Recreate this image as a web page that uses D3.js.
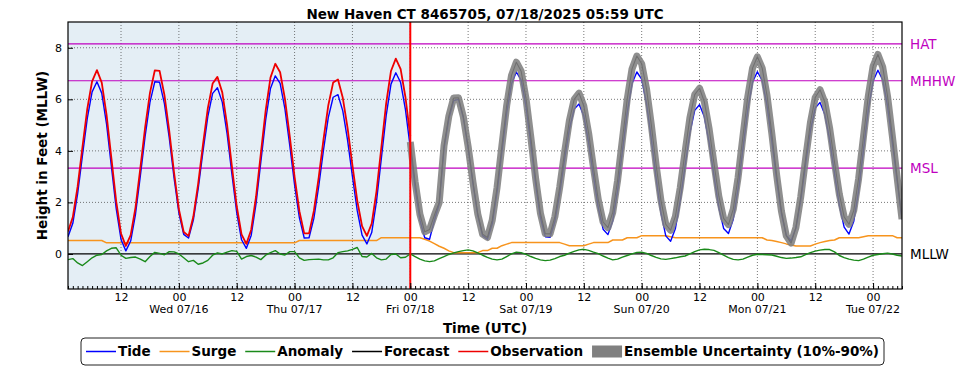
<!DOCTYPE html>
<html>
<head>
<meta charset="utf-8">
<script src="https://cdn.jsdelivr.net/npm/d3@7"></script>
<style>
  body { margin: 0; background: #fff; }
  svg { display: block; font-family: "DejaVu Sans", sans-serif; }
</style>
</head>
<body>
<svg width="969" height="370"></svg>
<script>
// hourly series, first value at 07/15 01 UTC
const startTime = Date.UTC(2025, 6, 15, 1);
const obsEndIndex = 71; // 07/18 00 UTC

const tide = [
  0.67, 1.19, 2.34, 3.82, 5.26, 6.29, 6.68, 6.24, 5.04, 3.40, 1.76, 0.56,
  0.12, 0.50, 1.54, 3.02, 4.57, 5.88, 6.68, 6.66, 5.83, 4.51, 2.95, 1.59,
  0.76, 0.62, 1.31, 2.52, 3.98, 5.33, 6.23, 6.45, 5.89, 4.67, 3.10, 1.60,
  0.55, 0.22, 0.72, 1.94, 3.57, 5.19, 6.42, 6.91, 6.62, 5.63, 4.21, 2.68,
  1.40, 0.62, 0.63, 1.38, 2.61, 4.04, 5.30, 6.08, 6.18, 5.55, 4.41, 3.01,
  1.68, 0.73, 0.39, 0.83, 2.05, 3.71, 5.37, 6.59, 7.03, 6.65, 5.60, 4.12,
  2.57, 1.31, 0.63, 0.57, 1.30, 1.95, 4.10, 5.25, 5.95, 6.00, 5.29, 4.12,
  2.74, 1.50, 0.71, 0.57, 1.18, 2.40, 3.96, 5.48, 6.60, 7.06, 6.75, 5.74,
  4.29, 2.72, 1.41, 0.67, 0.65, 1.27, 2.36, 3.66, 4.84, 5.62, 5.82, 5.35,
  4.32, 3.02, 1.79, 0.96, 0.75, 1.29, 2.46, 3.98, 5.49, 6.61, 7.06, 6.78,
  5.84, 4.47, 2.93, 1.59, 0.70, 0.49, 0.99, 2.06, 3.42, 4.70, 5.57, 5.79,
  5.32, 4.31, 3.03, 1.81, 0.99, 0.79, 1.35, 2.54, 4.08, 5.59, 6.67, 7.07,
  6.73, 5.76, 4.39, 2.88, 1.57, 0.72, 0.51, 1.01, 2.10, 3.48, 4.78, 5.66,
  5.88, 5.41, 4.42, 3.13, 1.90, 1.04, 0.77, 1.27, 2.46, 4.03, 5.58, 6.71,
  7.13, 6.76, 5.75, 4.32, 2.83, 1.35
];

// observed water level, index 0..71
const observation = [
  0.87, 1.43, 2.62, 4.15, 5.63, 6.70, 7.13, 6.65, 5.40, 3.72, 2.04, 0.79,
  0.31, 0.73, 1.80, 3.32, 4.91, 6.25, 7.12, 7.10, 6.17, 4.78, 3.16, 1.74,
  0.85, 0.70, 1.45, 2.72, 4.24, 5.65, 6.61, 6.87, 6.27, 5.01, 3.40, 1.85,
  0.76, 0.39, 0.94, 2.21, 3.89, 5.56, 6.84, 7.38, 7.05, 6.02, 4.56, 2.99,
  1.66, 0.80, 0.80, 1.67, 2.96, 4.45, 5.77, 6.65, 6.77, 6.06, 4.88, 3.44,
  2.07, 1.08, 0.70, 1.18, 2.44, 4.14, 5.84, 7.10, 7.58, 7.17, 6.08, 4.57
];

// forecast, index 71..173
const forecast = [
  4.35,
  2.80, 1.54, 0.86, 0.95, 1.50, 2.00, 4.20, 5.35, 6.05, 6.06, 5.33, 4.17,
  2.79, 1.55, 0.77, 0.64, 1.31, 2.58, 4.19, 5.76, 6.93, 7.44, 7.09, 6.04,
  4.54, 2.93, 1.58, 0.79, 0.78, 1.45, 2.59, 3.94, 5.17, 6.00, 6.24, 5.74,
  4.68, 3.35, 2.10, 1.24, 1.02, 1.61, 2.85, 4.43, 6.00, 7.18, 7.68, 7.38,
  6.41, 5.01, 3.44, 2.07, 1.15, 0.92, 1.46, 2.57, 3.96, 5.28, 6.18, 6.43,
  5.90, 4.84, 3.51, 2.24, 1.38, 1.14, 1.74, 2.97, 4.55, 6.09, 7.21, 7.65,
  7.21, 6.14, 4.67, 3.06, 1.65, 0.70, 0.42, 1.03, 2.22, 3.69, 5.09, 6.07,
  6.37, 5.88, 4.87, 3.56, 2.32, 1.44, 1.15, 1.69, 2.92, 4.53, 6.11, 7.28,
  7.74, 7.25, 6.12, 4.57, 2.95, 1.35
];

const surge = [
  0.52, 0.52, 0.52, 0.52, 0.52, 0.52, 0.52, 0.52, 0.43, 0.43, 0.43, 0.43,
  0.43, 0.43, 0.43, 0.43, 0.43, 0.43, 0.43, 0.43, 0.43, 0.43, 0.43, 0.43,
  0.43, 0.43, 0.43, 0.43, 0.43, 0.43, 0.43, 0.43, 0.43, 0.43, 0.43, 0.43,
  0.43, 0.43, 0.43, 0.43, 0.43, 0.43, 0.43, 0.43, 0.43, 0.43, 0.43, 0.43,
  0.52, 0.52, 0.52, 0.52, 0.52, 0.52, 0.52, 0.52, 0.52, 0.52, 0.52, 0.52,
  0.52, 0.52, 0.52, 0.52, 0.52, 0.63, 0.63, 0.63, 0.63, 0.63, 0.63, 0.63,
  0.63, 0.63, 0.57, 0.50, 0.40, 0.30, 0.22, 0.12, 0.05, 0.05, 0.05, 0.05,
  0.05, 0.05, 0.13, 0.13, 0.22, 0.22, 0.32, 0.38, 0.44, 0.44, 0.44, 0.44,
  0.44, 0.44, 0.44, 0.44, 0.44, 0.44, 0.44, 0.38, 0.32, 0.32, 0.32, 0.32,
  0.38, 0.44, 0.44, 0.44, 0.44, 0.54, 0.54, 0.54, 0.63, 0.63, 0.63, 0.71,
  0.71, 0.71, 0.71, 0.71, 0.71, 0.67, 0.63, 0.63, 0.63, 0.63, 0.63, 0.63,
  0.63, 0.63, 0.63, 0.63, 0.63, 0.63, 0.63, 0.63, 0.63, 0.63, 0.63, 0.63,
  0.63, 0.54, 0.52, 0.48, 0.44, 0.39, 0.35, 0.31, 0.31, 0.31, 0.31, 0.38,
  0.44, 0.48, 0.52, 0.54, 0.63, 0.63, 0.63, 0.63, 0.63, 0.67, 0.71, 0.71,
  0.71, 0.71, 0.71, 0.71, 0.63, 0.63
];

const anomaly = [
  -0.22, -0.18, -0.35, -0.45, -0.30, -0.15, -0.05, -0.02, 0.12, 0.22, 0.24, -0.05,
  -0.17, -0.14, -0.12, -0.20, -0.30, -0.10, 0.06, 0.02, -0.03, 0.09, 0.08, 0.00,
  -0.15, -0.30, -0.25, -0.40, -0.35, -0.25, -0.05, 0.04, 0.00, 0.07, 0.13, 0.10,
  -0.20, -0.10, -0.06, -0.12, -0.22, -0.05, 0.05, 0.13, 0.00, -0.04, 0.09, 0.09,
  -0.15, -0.25, -0.22, -0.21, -0.20, -0.23, -0.23, -0.15, 0.05, 0.09, 0.12, 0.18,
  0.25, -0.10, -0.12, 0.02, -0.15, -0.23, -0.20, -0.02, 0.00, -0.15, -0.13, 0.00,
  -0.10, -0.20, -0.27, -0.30, -0.27, -0.18, -0.10, -0.02, 0.04, 0.09, 0.13, 0.16,
  0.12, 0.04, -0.05, -0.13, -0.20, -0.23, -0.20, -0.10, 0.00, 0.07, 0.05, -0.02,
  -0.10, -0.17, -0.23, -0.26, -0.24, -0.18, -0.10, -0.05, 0.03, 0.10, 0.16, 0.18,
  0.14, 0.07, 0.01, -0.08, -0.16, -0.23, -0.20, -0.12, -0.06, 0.00, 0.06, 0.07,
  0.02, -0.06, -0.13, -0.19, -0.21, -0.18, -0.15, -0.11, -0.08, 0.00, 0.09, 0.16,
  0.18, 0.17, 0.14, 0.05, -0.05, -0.14, -0.21, -0.23, -0.20, -0.12, -0.05, -0.01,
  -0.02, -0.03, -0.04, -0.09, -0.14, -0.17, -0.16, -0.14, -0.11, -0.03, 0.05, 0.11,
  0.15, 0.17, 0.17, 0.08, -0.06, -0.14, -0.20, -0.24, -0.26, -0.20, -0.12, -0.05,
  -0.02, 0.01, 0.03, 0.00, -0.05, -0.08
];

const datumNames = ['HAT', 'MHHW', 'MSL', 'MLLW'];
const datumValues = [8.15, 6.72, 3.33, 0];
const yTicks = [0, 2, 4, 6, 8];
const legendNames = ['Tide', 'Surge', 'Anomaly', 'Forecast', 'Observation', 'Ensemble Uncertainty (10%-90%)'];

const LEFT = 68, RIGHT = 902, TOP = 22, BOTTOM = 289;
const HOUR = 3600 * 1000;
const timeAt = i => new Date(startTime + i * HOUR);

const svg = d3.select('svg');

const x = d3.scaleUtc()
  .domain([timeAt(0), timeAt(tide.length - 1)])
  .range([LEFT, RIGHT]);
const y = d3.scaleLinear().domain([-1.36, 9.0]).range([BOTTOM, TOP]);

svg.append('clipPath').attr('id', 'plot')
  .append('rect').attr('x', LEFT).attr('y', TOP)
  .attr('width', RIGHT - LEFT).attr('height', BOTTOM - TOP);

const plot = svg.append('g').attr('clip-path', 'url(#plot)');

// observed period shading
plot.append('rect')
  .attr('x', LEFT).attr('y', TOP)
  .attr('width', x(timeAt(obsEndIndex)) - LEFT)
  .attr('height', BOTTOM - TOP)
  .attr('fill', '#e4eef5');

// grid
const majorTimes = x.ticks(d3.utcHour.every(12)).filter(d => d.getUTCHours() % 12 === 0);
plot.selectAll('.vgrid').data(majorTimes).enter().append('line')
  .attr('x1', d => x(d)).attr('x2', d => x(d))
  .attr('y1', TOP).attr('y2', BOTTOM)
  .attr('stroke', '#555').attr('stroke-width', 0.8).attr('stroke-dasharray', '1,2');
plot.selectAll('.hgrid').data(yTicks.filter(v => v !== 0)).enter().append('line')
  .attr('x1', LEFT).attr('x2', RIGHT)
  .attr('y1', d => y(d)).attr('y2', d => y(d))
  .attr('stroke', '#555').attr('stroke-width', 0.8).attr('stroke-dasharray', '1,2');

// datum lines
plot.selectAll('.datum').data(datumValues).enter().append('line')
  .attr('x1', LEFT).attr('x2', RIGHT)
  .attr('y1', d => y(d)).attr('y2', d => y(d))
  .attr('stroke', (d, i) => datumNames[i] === 'MLLW' ? '#000' : '#bf00bf')
  .attr('stroke-width', 1.2);

const pts = (arr, offset) => arr.map((v, i) => ({ t: timeAt(i + offset), v }));
const line = d3.line().x(d => x(d.t)).y(d => y(d.v));

function drawLine(data, color, width) {
  return plot.append('path').datum(data)
    .attr('d', line)
    .attr('fill', 'none')
    .attr('stroke', color)
    .attr('stroke-width', width)
    .attr('stroke-linejoin', 'round');
}

drawLine(pts(surge, 0), '#f7941d', 1.5);
drawLine(pts(anomaly, 0), '#1a8a1a', 1.4);
drawLine(pts(tide, 0), '#0000ff', 1.4);
drawLine(pts(forecast, obsEndIndex), '#000', 1.1);
// ensemble spread drawn over the forecast
drawLine(pts(forecast, obsEndIndex), '#808080', 7).attr('stroke-opacity', 0.88);
drawLine(pts(observation, 0), '#ee0000', 1.8);

// now line
svg.append('line')
  .attr('x1', x(timeAt(obsEndIndex))).attr('x2', x(timeAt(obsEndIndex)))
  .attr('y1', TOP).attr('y2', BOTTOM)
  .attr('stroke', '#ff0000').attr('stroke-width', 2);

// axes
const xAxis = d3.axisBottom(x)
  .tickValues(majorTimes)
  .tickSizeInner(-6).tickSizeOuter(0).tickPadding(4)
  .tickFormat(d3.utcFormat('%H'));
const gx = svg.append('g').attr('transform', `translate(0,${BOTTOM})`).call(xAxis);
gx.select('.domain').remove();
gx.selectAll('text').attr('font-size', 11).attr('fill', '#000').attr('font-family', 'DejaVu Sans');

const minorAxis = d3.axisBottom(x)
  .ticks(d3.utcHour.every(1))
  .tickSizeInner(-3).tickSizeOuter(0).tickFormat('');
const gm = svg.append('g').attr('transform', `translate(0,${BOTTOM})`).call(minorAxis);
gm.select('.domain').remove();

svg.append('g').selectAll('text')
  .data(majorTimes.filter(d => d.getUTCHours() === 0))
  .enter().append('text')
  .attr('x', d => x(d)).attr('y', BOTTOM + 24)
  .attr('text-anchor', 'middle').attr('font-size', 11)
  .text(d3.utcFormat('%a %m/%d'));

const yAxis = d3.axisLeft(y).tickValues(yTicks)
  .tickSizeInner(-5).tickSizeOuter(0).tickPadding(6)
  .tickFormat(d3.format('d'));
const gy = svg.append('g').attr('transform', `translate(${LEFT},0)`).call(yAxis);
gy.select('.domain').remove();
gy.selectAll('text').attr('font-size', 11).attr('fill', '#000').attr('font-family', 'DejaVu Sans');

// frame
svg.append('rect')
  .attr('x', LEFT).attr('y', TOP)
  .attr('width', RIGHT - LEFT).attr('height', BOTTOM - TOP)
  .attr('fill', 'none').attr('stroke', '#000').attr('stroke-width', 1.2);

// datum labels
svg.selectAll('.dlabel').data(datumNames).enter().append('text')
  .attr('x', 910).attr('y', (d, i) => y(datumValues[i]))
  .attr('dy', '0.36em')
  .attr('font-size', 13.5)
  .attr('fill', d => d === 'MLLW' ? '#000' : '#bf00bf')
  .text(d => d);

// titles
svg.append('text').attr('x', (LEFT + RIGHT) / 2).attr('y', 19)
  .attr('text-anchor', 'middle').attr('font-size', 13.5).attr('font-weight', 'bold')
  .text('New Haven CT 8465705, 07/18/2025 05:59 UTC');
svg.append('text').attr('x', (LEFT + RIGHT) / 2).attr('y', 333)
  .attr('text-anchor', 'middle').attr('font-size', 13.5).attr('font-weight', 'bold')
  .text('Time (UTC)');
svg.append('text')
  .attr('transform', `translate(47,${(TOP + BOTTOM) / 2}) rotate(-90)`)
  .attr('text-anchor', 'middle').attr('font-size', 13.5).attr('font-weight', 'bold')
  .text('Height in Feet (MLLW)');

// legend
const legendColors = ['#0000ff', '#f7941d', '#1a8a1a', '#000', '#ee0000', '#808080'];
const boxX = 81, boxY = 338, boxW = 803, boxH = 27;
svg.append('rect')
  .attr('x', boxX).attr('y', boxY).attr('width', boxW).attr('height', boxH)
  .attr('rx', 4).attr('fill', '#fff').attr('stroke', '#222').attr('stroke-width', 1);

const legend = svg.append('g');
const handleW = 30, textGap = 2, pad = 5;
const items = legend.selectAll('g').data(legendNames).enter().append('g');
items.append('text')
  .attr('x', handleW + textGap).attr('y', boxY + boxH / 2).attr('dy', '0.36em')
  .attr('font-size', 13.5).attr('font-weight', 'bold')
  .text(d => d);
const widths = [];
items.each(function () { widths.push(this.querySelector('text').getComputedTextLength()); });
const totalW = d3.sum(widths) + legendNames.length * (handleW + textGap);
const itemGap = (boxW - 2 * pad - totalW) / (legendNames.length - 1);
let cx = boxX + pad;
items.attr('transform', (d, i) => {
  const tx = cx;
  cx += handleW + textGap + widths[i] + itemGap;
  return `translate(${tx},0)`;
});
items.each(function (d, i) {
  const g = d3.select(this);
  if (i === legendNames.length - 1) {
    g.append('rect').attr('x', 0).attr('y', boxY + boxH / 2 - 6)
      .attr('width', handleW).attr('height', 12).attr('fill', legendColors[i]);
  } else {
    g.append('line').attr('x1', 0).attr('x2', handleW)
      .attr('y1', boxY + boxH / 2).attr('y2', boxY + boxH / 2)
      .attr('stroke', legendColors[i]).attr('stroke-width', 1.5);
  }
});
</script>
</body>
</html>
